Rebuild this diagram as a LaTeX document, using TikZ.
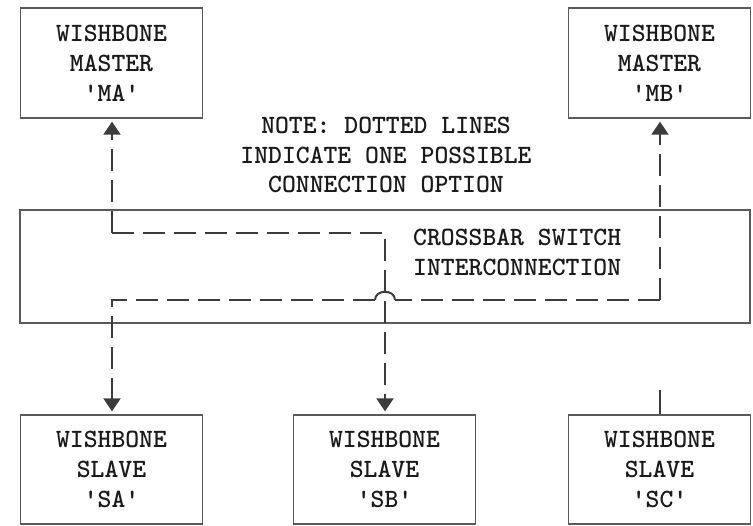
\documentclass[tikz,border=0pt]{standalone}
\usepackage{fontspec}
\usetikzlibrary{arrows.meta}
\definecolor{boxgray}{HTML}{5A5A5A}
\definecolor{lngray}{HTML}{3C3C3C}
\definecolor{txt}{HTML}{1A1A1A}
\begin{document}
\begin{tikzpicture}[x=1bp,y=-1bp,
  txtfont/.style={font=\ttfamily\bfseries\fontsize{26.5}{30}\selectfont, text=txt},
  box/.style={draw=boxgray, line width=1.3bp, minimum width=182bp, minimum height=110bp, inner sep=0pt, align=center, txtfont},
  conn/.style={draw=lngray, line width=2bp, dash pattern=on 22bp off 9bp},
  tip/.style={-{Triangle[width=17bp,length=13bp]}, shorten >=3bp},
  lbl/.style={inner sep=0pt, txtfont}]
\useasboundingbox (0,0) rectangle (753,526);
\fill[white] (0,0) rectangle (753,526);
% boxes
\node[box] (MA) at (111.5,63) {WISHBONE\\MASTER\\'MA'};
\node[box] (MB) at (659.5,63) {WISHBONE\\MASTER\\'MB'};
\node[draw=boxgray, line width=1.3bp, minimum width=730bp, minimum height=113bp, inner sep=0pt] (XB) at (385,266.5) {};
\node[lbl, anchor=west, align=left] (XT) at (413,252.5) {CROSSBAR SWITCH\\INTERCONNECTION};
\node[lbl, align=center] (NOTE) at (386,155) {NOTE: DOTTED LINES\\INDICATE ONE POSSIBLE\\CONNECTION OPTION};
\node[box, minimum height=109bp] (SA) at (111.5,469.5) {WISHBONE\\SLAVE\\'SA'};
\node[box, minimum height=109bp] (SB) at (384.5,469.5) {WISHBONE\\SLAVE\\'SB'};
\node[box, minimum height=109bp] (SC) at (659.5,469.5) {WISHBONE\\SLAVE\\'SC'};
% routing points
\coordinate (a1) at (112,233);
\coordinate (a2) at (385,233);
\coordinate (b1) at (660,300);
\coordinate (b2) at (112,300);
\coordinate (jr) at (395,300);
\coordinate (jl) at (375,300);
\coordinate (sc) at (660,390);
% connections
\draw[conn,tip] (a1) -- (MA.south -| a1);
\draw[conn,tip] (a1) -- (a2) -- (SB.north -| a2);
\draw[conn,tip] (b1) -- (MB.south -| b1);
\draw[conn] (b1) -- (jr);
\draw[draw=lngray, line width=2bp] (jr) .. controls (395,289) and (375,289) .. (jl);
\draw[conn,tip] (jl) -- (b2) -- (SA.north -| b2);
\draw[draw=lngray, line width=2bp] (sc) -- (SC.north -| sc);
\end{tikzpicture}
\end{document}
